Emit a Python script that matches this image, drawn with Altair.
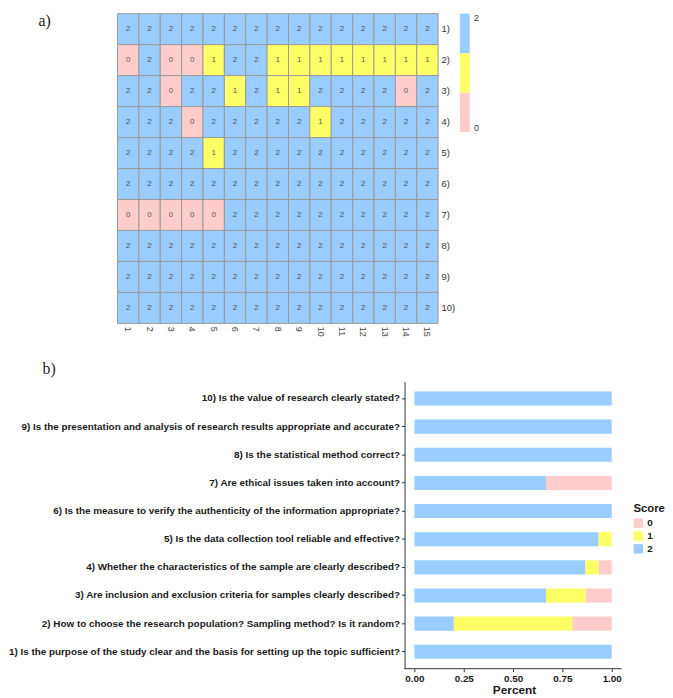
import altair as alt
import pandas as pd

# ---------------- data ----------------
cols = [1, 2, 3, 4, 5, 6, 7, 8, 9, 10, 11, 12, 13, 14, 15]
row_labels = ["1)", "2)", "3)", "4)", "5)", "6)", "7)", "8)", "9)", "10)"]

questions = [
    "1) Is the purpose of the study clear and the basis for setting up the topic sufficient?",
    "2) How to choose the research population? Sampling method? Is it random?",
    "3) Are inclusion and exclusion criteria for samples clearly described?",
    "4) Whether the characteristics of the sample are clearly described?",
    "5) Is the data collection tool reliable and effective?",
    "6) Is the measure to verify the authenticity of the information appropriate?",
    "7) Are ethical issues taken into account?",
    "8) Is the statistical method correct?",
    "9) Is the presentation and analysis of research results appropriate and accurate?",
    "10) Is the value of research clearly stated?",
]

q1 = [2, 2, 2, 2, 2, 2, 2, 2, 2, 2, 2, 2, 2, 2, 2]
q2 = [0, 2, 0, 0, 1, 2, 2, 1, 1, 1, 1, 1, 1, 1, 1]
q3 = [2, 2, 0, 2, 2, 1, 2, 1, 1, 2, 2, 2, 2, 0, 2]
q4 = [2, 2, 2, 0, 2, 2, 2, 2, 2, 1, 2, 2, 2, 2, 2]
q5 = [2, 2, 2, 2, 1, 2, 2, 2, 2, 2, 2, 2, 2, 2, 2]
q6 = [2, 2, 2, 2, 2, 2, 2, 2, 2, 2, 2, 2, 2, 2, 2]
q7 = [0, 0, 0, 0, 0, 2, 2, 2, 2, 2, 2, 2, 2, 2, 2]
q8 = [2, 2, 2, 2, 2, 2, 2, 2, 2, 2, 2, 2, 2, 2, 2]
q9 = [2, 2, 2, 2, 2, 2, 2, 2, 2, 2, 2, 2, 2, 2, 2]
q10 = [2, 2, 2, 2, 2, 2, 2, 2, 2, 2, 2, 2, 2, 2, 2]

score_domain = [0, 1, 2]
score_colors = ["#FFCCCC", "#FFFF66", "#99CCFF"]

pct_ticks = [0, 0.25, 0.5, 0.75, 1]
pct_axis_extent = [-0.05, 1.05]

all_scores = [q1, q2, q3, q4, q5, q6, q7, q8, q9, q10]
records = []
for lab, q, sc in zip(row_labels, questions, all_scores):
    for c, v in zip(cols, sc):
        records.append({"row": lab, "question": q, "col": c, "score": v})
df = pd.DataFrame(records)

color_scale = alt.Scale(domain=score_domain, range=score_colors)

# ---------------- a) heatmap ----------------
spacer = (
    alt.Chart(pd.DataFrame({"t": ["a)"]}))
    .mark_text(font="Liberation Serif", fontSize=16, align="left", baseline="top", color="#222")
    .encode(text="t:N", x=alt.value(26), y=alt.value(0))
    .properties(width=100, height=20)
)

base = alt.Chart(df).encode(
    x=alt.X(
        "col:O",
        sort=cols,
        axis=alt.Axis(
            title=None, labelAngle=90, ticks=False, domain=False, labelPadding=3,
            labelFontSize=9, labelColor="#444", labelFont="Liberation Sans",
        ),
    ),
    y=alt.Y(
        "row:O",
        sort=row_labels,
        axis=alt.Axis(
            orient="right", title=None, ticks=False, domain=False, labelPadding=3,
            labelFontSize=9.5, labelColor="#333", labelFont="Liberation Sans",
            minExtent=13, maxExtent=13,
        ),
    ),
)
rect = base.mark_rect(stroke="#9a9a9a", strokeWidth=1).encode(
    color=alt.Color("score:O", scale=color_scale, legend=None)
)
txt = base.mark_text(fontSize=8, color="#555", font="Liberation Sans").encode(text="score:Q")
heat = (rect + txt).properties(width=325, height=314)

legend_bar = (
    alt.Chart(pd.DataFrame({"score": score_domain}))
    .transform_calculate(lo="datum.score*2/3", hi="(datum.score+1)*2/3")
    .mark_rect()
    .encode(
        y=alt.Y(
            "lo:Q",
            scale=alt.Scale(domain=[0, 2], nice=False, zero=False),
            axis=alt.Axis(
                orient="right", values=[0, 1, 2], format="d", title=None, ticks=False,
                domain=False, grid=False, labelFlush=True, labelPadding=4, labelFontSize=9,
                labelColor="#333", labelFont="Liberation Sans",
            ),
        ),
        y2="hi:Q",
        color=alt.Color("score:O", scale=color_scale, legend=None),
    )
    .properties(width=10, height=120)
)

top = alt.hconcat(spacer, heat, legend_bar, spacing=5)

# ---------------- b) stacked bars ----------------
BW = 617  # plot width incl. the label zone (labels drawn via negative axis offset)
x_scale = alt.Scale(domain=[-2.035, 1.05], nice=False, zero=False)

bars = (
    alt.Chart(df)
    .transform_aggregate(n="count()", groupby=["question", "score"])
    .transform_joinaggregate(total="sum(n)", groupby=["question"])
    .transform_calculate(frac="datum.n / datum.total")
    .mark_bar()
    .encode(
        y=alt.Y(
            "question:N",
            sort=questions[::-1],
            scale=alt.Scale(paddingInner=0.5, paddingOuter=0.35),
            axis=alt.Axis(
                title=None, labelFont="Liberation Sans", labelFontWeight="bold",
                labelFontSize=10, labelColor="#1a1a1a", tickSize=3, tickColor="#333",
                domainColor="#333", labelPadding=2, offset=-397, labelLimit=0,
            ),
        ),
        x=alt.X(
            "frac:Q",
            stack="zero",
            scale=x_scale,
            axis=alt.Axis(
                title="Percent", values=pct_ticks, format=".2f", domain=False,
                labelFont="Liberation Sans", labelFontWeight="bold", labelFontSize=10,
                labelColor="#1a1a1a", tickSize=3, tickColor="#333",
                titleFont="Liberation Sans", titleFontWeight="bold", titleFontSize=12,
                titleColor="#1a1a1a", titlePadding=1, labelPadding=2, titleX=508,
            ),
        ),
        color=alt.Color(
            "score:O",
            scale=color_scale,
            legend=alt.Legend(
                title="Score", orient="none", legendX=629, legendY=123,
                symbolType="square", symbolSize=90, symbolStrokeWidth=0,
                labelFont="Liberation Sans", labelFontWeight="bold", labelFontSize=10,
                labelColor="#1a1a1a", titleFont="Liberation Sans", titleFontWeight="bold",
                titleFontSize=11.5, titleColor="#1a1a1a", rowPadding=3, padding=0,
                titlePadding=4,
            ),
        ),
        order=alt.Order("score:O", sort="descending"),
    )
)

x_line = (
    alt.Chart(pd.DataFrame({"a": [pct_axis_extent[0]], "b": [pct_axis_extent[1]]}))
    .mark_rule(color="#333", strokeWidth=1)
    .encode(x=alt.X("a:Q", scale=x_scale), x2="b:Q", y=alt.value(291))
)

bar_chart = (bars + x_line).properties(
    width=BW,
    height=291,
    title=alt.TitleParams(
        "b)", anchor="start", frame="group", font="Liberation Serif", fontSize=16,
        fontWeight="normal", color="#222", dx=30, offset=5,
    ),
)

chart = (
    alt.vconcat(top, bar_chart, spacing=24)
    .resolve_scale(color="independent")
    .properties(padding={"left": 0, "top": 0, "right": 0, "bottom": 0}, background="white")
    .configure_view(strokeWidth=0)
    .configure_axis(grid=False)
)

chart.save("out.html", embed_options={"renderer": "svg", "actions": False})
